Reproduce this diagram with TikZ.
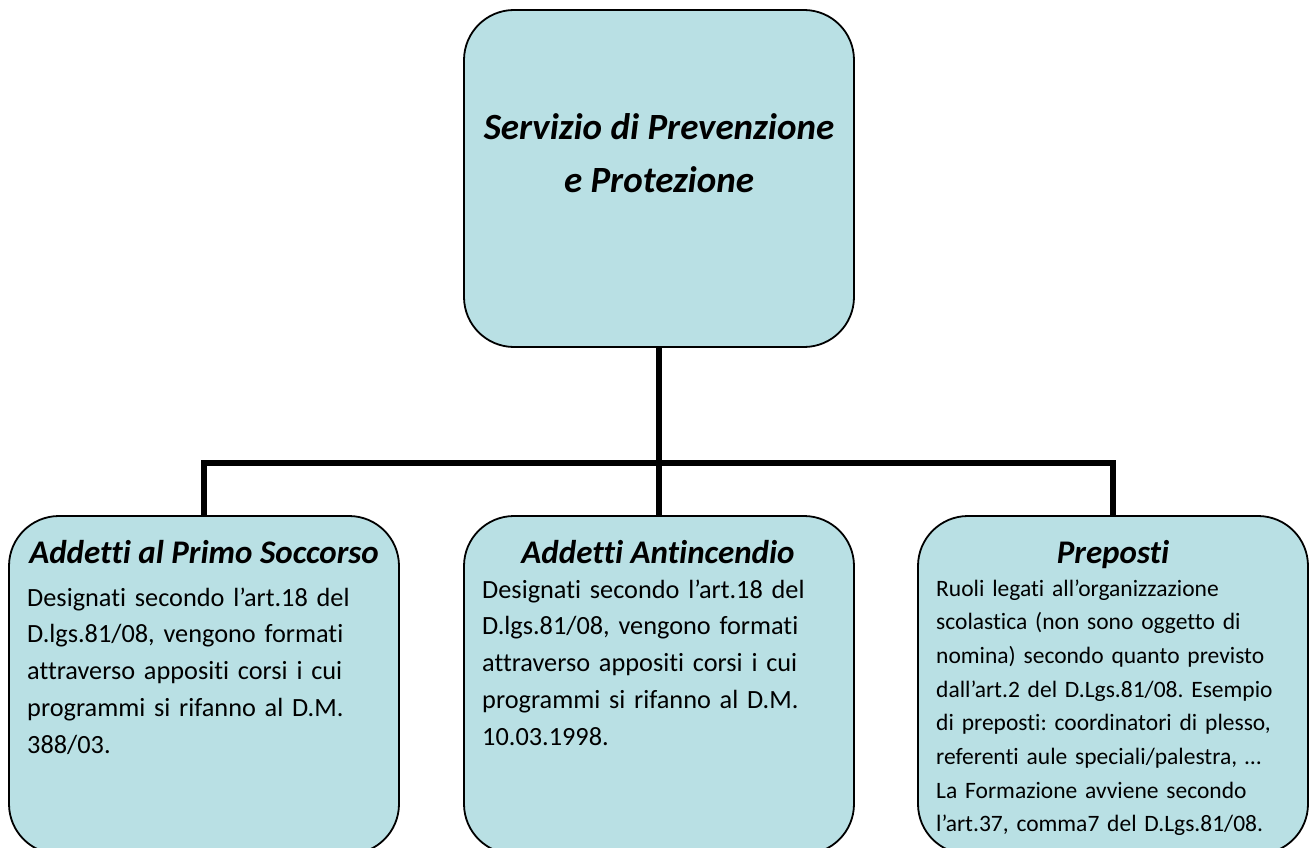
\documentclass[tikz,border=0pt]{standalone}
\usepackage{fontspec}
\setmainfont{Carlito}[Ligatures={NoCommon}]
\definecolor{boxfill}{RGB}{185,224,228}
\begin{document}
\frenchspacing
\begin{tikzpicture}[x=1pt,y=-1pt,
  box/.style={draw=black,line width=1.8pt,fill=boxfill,rounded corners=50pt,
    minimum width=390pt,inner sep=0pt},
  conn/.style={line width=6pt,line join=miter},
  ttl/.style={anchor=base,inner sep=0pt,font=\fontsize{33}{38}\selectfont\bfseries\itshape},
  body/.style={anchor=base west,inner sep=0pt,text width=380pt,align=left,
    font=\fontsize{26.3}{36.8}\selectfont},
  bodys/.style={anchor=base west,inner sep=0pt,text width=380pt,align=left,
    font=\fontsize{23.5}{33.7}\selectfont}]
\path[use as bounding box] (0,0) rectangle (1309,848);
\node[box,minimum height=337pt] (top) at (659,178.5) {};
\node[box,minimum height=338pt] (left) at (204,685) {};
\node[box,minimum height=338pt] (mid) at (659,685) {};
\node[box,minimum height=338pt] (right) at (1113,685) {};
\coordinate (j) at (659,463);
\draw[conn] (top.south) -- (j);
\draw[conn] (left.north) |- (j) -| (right.north);
\draw[conn] (j) -- (mid.north);
\node[ttl,font=\fontsize{37}{53}\selectfont\bfseries\itshape] (t1) at (659,140) {Servizio di Prevenzione};
\node[ttl,font=\fontsize{37}{53}\selectfont\bfseries\itshape] (t2) at (659,193) {e Protezione};
\node[ttl] (lt) at (204,563) {Addetti al Primo Soccorso};
\node[body] (lb) at (27,606) {Designati secondo l’art.18 del\\D.lgs.81/08, vengono formati\\attraverso appositi corsi i cui\\programmi si rifanno al D.M.\\388/03.};
\node[ttl] (mt) at (658,563) {Addetti Antincendio};
\node[body] (mb) at (482,598) {Designati secondo l’art.18 del\\D.lgs.81/08, vengono formati\\attraverso appositi corsi i cui\\programmi si rifanno al D.M.\\10.03.1998.};
\node[ttl] (rt) at (1113,563) {Preposti};
\node[bodys] (rb) at (936,596) {Ruoli legati all’organizzazione\\scolastica (non sono oggetto di\\nomina) secondo quanto previsto\\dall’art.2 del D.Lgs.81/08. Esempio\\di preposti: coordinatori di plesso,\\referenti aule speciali/palestra, …\\La Formazione avviene secondo\\l’art.37, comma7 del D.Lgs.81/08.};
\end{tikzpicture}
\end{document}
